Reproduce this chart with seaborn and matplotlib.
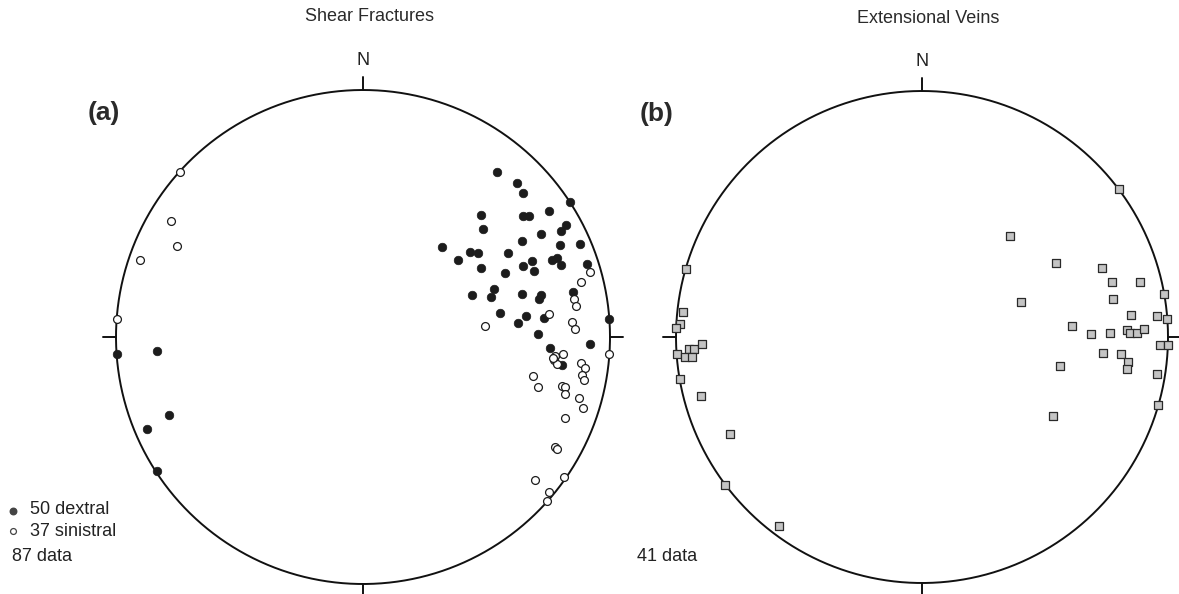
import numpy as np
import pandas as pd
import matplotlib
matplotlib.use("Agg")
import matplotlib.pyplot as plt
import seaborn as sns

# projected positions inside the unit circle (x east, y north)
dextral_x = [0.541, 0.622, 0.648, 0.838, 0.477, 0.648, 0.673, 0.754, 0.821, 0.803,
             0.486, 0.721, 0.644, 0.798, 0.880, 0.319, 0.434, 0.467, 0.386, 0.586,
             0.683, 0.648, 0.694, 0.764, 0.786, 0.800, 0.908, 0.479, 0.576, 0.530,
             0.441, 0.518, 0.643, 0.719, 0.713, 0.850, 0.555, 0.659, 0.629, 0.734,
             0.707, 0.997, 0.918, 0.757, 0.804, -0.995, -0.835, -0.787, -0.876, -0.835]
dextral_y = [0.669, 0.623, 0.583, 0.545, 0.494, 0.490, 0.490, 0.510, 0.455, 0.428,
             0.438, 0.417, 0.389, 0.374, 0.375, 0.366, 0.343, 0.339, 0.313, 0.339,
             0.306, 0.289, 0.268, 0.312, 0.318, 0.293, 0.296, 0.278, 0.258, 0.194,
             0.170, 0.162, 0.173, 0.169, 0.153, 0.183, 0.098, 0.085, 0.057, 0.078,
             0.013, 0.072, -0.030, -0.046, -0.112, -0.069, -0.058, -0.317, -0.372, -0.543]

sinistral_x = [0.918, 0.883, 0.855, 0.862, 0.754, 0.847, 0.860, 0.495, 0.997, 0.776,
               0.809, 0.773, 0.787, 0.883, 0.900, 0.887, 0.894, 0.688, 0.710, 0.804,
               0.818, 0.818, 0.874, 0.892, 0.817, 0.777, 0.787, 0.814, 0.698, 0.753,
               0.744, -0.741, -0.777, -0.754, -0.902, -0.995, 0.770]
sinistral_y = [0.264, 0.221, 0.154, 0.124, 0.094, 0.061, 0.032, 0.046, -0.068, -0.077,
               -0.069, -0.093, -0.109, -0.104, -0.124, -0.154, -0.173, -0.157, -0.201, -0.198,
               -0.201, -0.232, -0.247, -0.287, -0.327, -0.445, -0.452, -0.566, -0.580, -0.628,
               -0.665, 0.669, 0.470, 0.370, 0.312, 0.072, -0.085]

veins_x = [0.800, 0.357, 0.545, 0.732, 0.772, 0.885, 0.404, 0.778, 0.985, 0.848,
           0.954, 0.997, 0.610, 0.687, 0.763, 0.833, 0.846, 0.873, 0.901, 0.967,
           0.999, 0.737, 0.810, 0.839, 0.833, 0.562, 0.955, 0.961, 0.534,
           -0.961, -0.973, -0.984, -0.998, -0.997, -0.948, -0.928, -0.893, -0.965, -0.936,
           -0.985, -0.900, -0.779, -0.799, -0.581]
veins_y = [0.600, 0.411, 0.302, 0.282, 0.222, 0.222, 0.141, 0.153, 0.174, 0.089,
           0.085, 0.072, 0.043, 0.013, 0.015, 0.030, 0.015, 0.015, 0.033, -0.034,
           -0.034, -0.064, -0.069, -0.102, -0.131, -0.119, -0.150, -0.275, -0.320,
           0.277, 0.103, 0.053, 0.037, -0.069, -0.049, -0.048, -0.030, -0.083, -0.080,
           -0.172, -0.240, -0.394, -0.600, -0.770]

titles = ["Shear Fractures", "Extensional Veins"]
panel_labels = ["(a)", "(b)"]

sns.set_style("white")
plt.rcParams["font.family"] = ["Liberation Sans", "DejaVu Sans"]

W, H = 1179, 594
fig = plt.figure(figsize=(W / 100, H / 100), dpi=100)

def net_axes(cx, cy, R, lim=1.1):
    half = lim * R
    ax = fig.add_axes([(cx - half) / W, (H - cy - half) / H, 2 * half / W, 2 * half / H])
    ax.set_xlim(-lim, lim)
    ax.set_ylim(-lim, lim)
    ax.set_aspect("equal")
    ax.set_axis_off()
    t = np.linspace(0, 2 * np.pi, 400)
    ax.plot(np.cos(t), np.sin(t), color="#111111", lw=1.4, zorder=2)
    tk = 0.053
    for dx, dy in [(0, 1), (1, 0), (0, -1), (-1, 0)]:
        ax.plot([dx, dx * (1 + tk)], [dy, dy * (1 + tk)], color="#111111", lw=1.4, zorder=2)
    ax.text(0, 1.121, "N", ha="center", va="center", fontsize=13, color="#222222")
    return ax

axa = net_axes(363, 337, 247)
axb = net_axes(922, 337, 246)

sf = pd.DataFrame({"x": dextral_x + sinistral_x,
                   "y": dextral_y + sinistral_y,
                   "sense": ["dextral"] * len(dextral_x) + ["sinistral"] * len(sinistral_x)})
d = sf[sf.sense == "dextral"]
s = sf[sf.sense == "sinistral"]
sns.scatterplot(x=d.x.values, y=d.y.values, ax=axa, color="#1c1c1c", edgecolor="#1c1c1c",
                s=38, linewidth=0.5, zorder=3, legend=False)
sns.scatterplot(x=s.x.values, y=s.y.values, ax=axa, color="white", edgecolor="#1c1c1c",
                s=32, linewidth=0.9, zorder=3, legend=False)

sns.scatterplot(x=veins_x, y=veins_y, ax=axb, marker="s", color="#c4c4c4", edgecolor="#2a2a2a",
                s=34, linewidth=0.9, zorder=3, legend=False)

for ax, ttl, lab, lx in [(axa, titles[0], panel_labels[0], -1.049), (axb, titles[1], panel_labels[1], -1.081)]:
    ax.text(0.025, 1.296, ttl, ha="center", va="center", fontsize=13, color="#2a2a2a")
    ax.text(lx, 0.907, lab, ha="center", va="center", fontsize=19, fontweight="bold", color="#2a2a2a")

# legend / counts
axa.scatter([-1.417], [-0.704], s=22, color="#444444", clip_on=False, zorder=3)
axa.scatter([-1.417], [-0.787], s=18, facecolor="white", edgecolor="#444444", linewidth=0.9,
            clip_on=False, zorder=3)
axa.text(-1.348, -0.700, f"{len(dextral_x)} dextral", ha="left", va="center", fontsize=13, color="#222222")
axa.text(-1.348, -0.787, f"{len(sinistral_x)} sinistral", ha="left", va="center", fontsize=13, color="#222222")
axa.text(-1.421, -0.889, "87 data", ha="left", va="center", fontsize=13, color="#222222")
axb.text(-1.159, -0.893, "41 data", ha="left", va="center", fontsize=13, color="#222222")

fig.savefig("out.png", dpi=100)
